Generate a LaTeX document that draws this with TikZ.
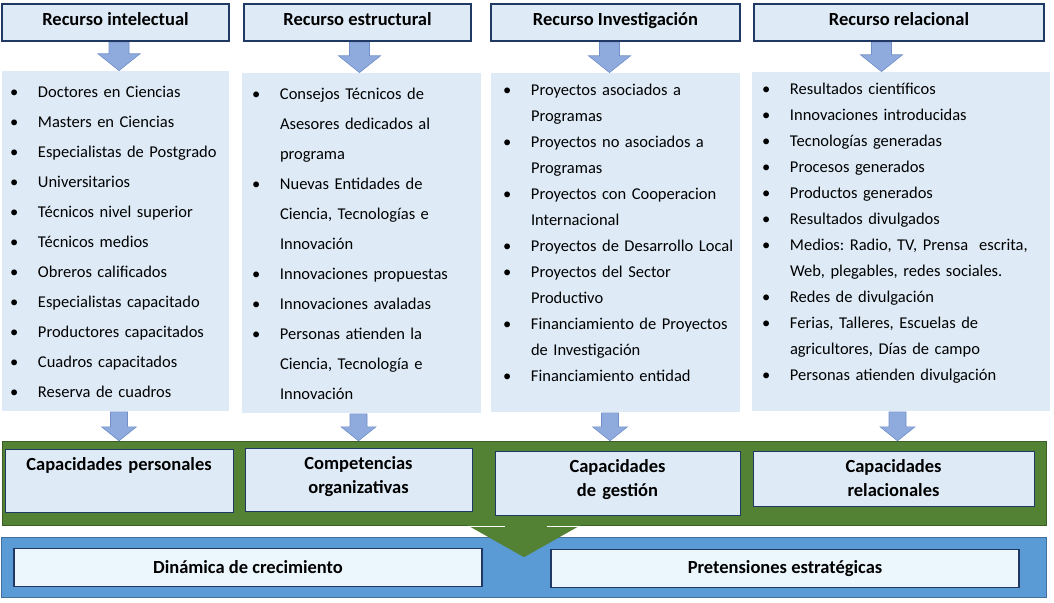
\documentclass[tikz,border=0pt]{standalone}
\usepackage{fontspec}
\setmainfont{Carlito}
\usetikzlibrary{positioning,calc}
\frenchspacing

\definecolor{boxblue}{HTML}{DEEBF7}
\definecolor{navy}{HTML}{203864}
\definecolor{arrowblue}{HTML}{8FAADC}
\definecolor{arrowline}{HTML}{7190C9}
\definecolor{bandgreen}{HTML}{548235}
\definecolor{bandline}{HTML}{3B5E26}
\definecolor{panelblue}{HTML}{5B9BD5}
\definecolor{panelline}{HTML}{41719C}
\definecolor{goalfill}{HTML}{EBF6FD}

\newlength{\listindent}
\newcommand{\itm}[1]{\hspace*{\listindent}\makebox[28pt][l]{\textbullet}\mbox{#1}}
\newcommand{\cnt}[1]{\hspace*{\listindent}\hspace*{28pt}\mbox{#1}}
% from, to, x shift, half shaft, half head
\newcommand{\blockarrow}[5]{%
  \filldraw[blk] let \p1=([xshift=#3]#1.south), \p2=(#2.north), \n1={0.8*#5} in
    (\x1-#4,\y1-0.8pt) -- (\x1+#4,\y1-0.8pt) -- (\x1+#4,\y2+\n1) -- (\x1+#5,\y2+\n1)
    -- (\x1,\y2) -- (\x1-#5,\y2+\n1) -- (\x1-#4,\y2+\n1) -- cycle;}

\begin{document}
\begin{tikzpicture}
[x=1pt,y=-1pt,
hdrbox/.style={draw=navy, line width=1.2pt, fill=boxblue, minimum height=37pt, inner sep=0pt,
  text height=12pt, text depth=6pt, font=\fontsize{18.5}{22}\selectfont\bfseries},
listbox/.style={fill=boxblue, inner sep=0pt, align=left, font=\fontsize{16.5}{30}\selectfont},
listtight/.style={listbox, font=\fontsize{16.5}{26}\selectfont},
capbox/.style={draw=navy, line width=1pt, fill=boxblue, inner sep=0pt, align=center,
  text height=20.5pt, text depth=#1, font=\fontsize{18.5}{24}\selectfont\bfseries},
goalbox/.style={draw=navy, line width=1.5pt, fill=goalfill, minimum height=38pt, inner sep=0pt,
  font=\fontsize{18.5}{22}\selectfont\bfseries},
blk/.style={fill=arrowblue, draw=arrowline, line width=0.6pt}]
\useasboundingbox (0,0) rectangle (1054,602);

\node[hdrbox, minimum width=227pt] (h1) at (115.5,22.5) {Recurso intelectual};
\node[hdrbox, minimum width=227pt, right=13.8pt of h1] (h2) {Recurso estructural};
\node[hdrbox, minimum width=249pt, right=18.8pt of h2] (h3) {Recurso Investigación};
\node[hdrbox, minimum width=290pt, right=12.8pt of h3] (h4) {Recurso relacional};

\node[listbox, text width=227pt, text height=27pt, text depth=313pt, below=29pt of h1] (l1)
{\setlength{\listindent}{8pt}%
\itm{Doctores en Ciencias}\\
\itm{Masters en Ciencias}\\
\itm{Especialistas de Postgrado}\\
\itm{Universitarios}\\
\itm{Técnicos nivel superior}\\
\itm{Técnicos medios}\\
\itm{Obreros calificados}\\
\itm{Especialistas capacitado}\\
\itm{Productores capacitados}\\
\itm{Cuadros capacitados}\\
\itm{Reserva de cuadros}};

\node[listbox, text width=239pt, text height=27pt, text depth=313pt, below=31pt of h2, xshift=4pt] (l2)
{\setlength{\listindent}{10pt}%
\itm{Consejos Técnicos de}\\
\cnt{Asesores dedicados al}\\
\cnt{programa}\\
\itm{Nuevas Entidades de}\\
\cnt{Ciencia, Tecnologías e}\\
\cnt{Innovación}\\
\itm{Innovaciones propuestas}\\
\itm{Innovaciones avaladas}\\
\itm{Personas atienden la}\\
\cnt{Ciencia, Tecnología e}\\
\cnt{Innovación}};

\node[listtight, text width=249pt, text height=23pt, text depth=316pt, below=31pt of h3] (l3)
{\setlength{\listindent}{12pt}%
\itm{Proyectos asociados a}\\
\cnt{Programas}\\
\itm{Proyectos no asociados a}\\
\cnt{Programas}\\
\itm{Proyectos con Cooperacion}\\
\cnt{Internacional}\\
\itm{Proyectos de Desarrollo Local}\\
\itm{Proyectos del Sector}\\
\cnt{Productivo}\\
\itm{Financiamiento de Proyectos}\\
\cnt{de Investigación}\\
\itm{Financiamiento entidad}};

\node[listtight, text width=298pt, text height=23pt, text depth=316pt, below=30pt of h4, xshift=2pt] (l4)
{\setlength{\listindent}{10pt}%
\itm{Resultados científicos}\\
\itm{Innovaciones introducidas}\\
\itm{Tecnologías generadas}\\
\itm{Procesos generados}\\
\itm{Productos generados}\\
\itm{Resultados divulgados}\\
\itm{Medios: Radio, TV, Prensa~ escrita,}\\
\cnt{Web, plegables, redes sociales.}\\
\itm{Redes de divulgación}\\
\itm{Ferias, Talleres, Escuelas de}\\
\cnt{agricultores, Días de campo}\\
\itm{Personas atienden divulgación}};

\blockarrow{h1}{l1}{3.5pt}{10pt}{21pt}
\blockarrow{h2}{l2}{2pt}{10pt}{21pt}
\blockarrow{h3}{l3}{-6pt}{10pt}{21pt}
\blockarrow{h4}{l4}{-17.5pt}{10pt}{21pt}

% green band and blue panel
\node[fill=bandgreen, draw=bandline, minimum width=1044pt, minimum height=84pt, inner sep=0pt] (band) at (524,483) {};
\node[fill=panelblue, draw=panelline, minimum width=1045pt, minimum height=60pt, inner sep=0pt, below=12pt of band] (panel) {};
\fill[bandgreen] ([xshift=-57.5pt,yshift=0.5pt]band.south) -- ([xshift=57.5pt,yshift=0.5pt]band.south)
  -- ([yshift=-32pt]band.south) -- cycle;
\draw[white, line width=1.2pt] ([xshift=-56pt,yshift=-1.5pt]band.south) -- ([xshift=-19pt,yshift=-1.5pt]band.south);
\draw[white, line width=1.2pt] ([xshift=23pt,yshift=-1.5pt]band.south) -- ([xshift=59pt,yshift=-1.5pt]band.south);

\blockarrow{l1}{band}{3.5pt}{8.5pt}{17.5pt}
\blockarrow{l2}{band}{-3pt}{8.5pt}{17.5pt}
\blockarrow{l3}{band}{-5.5pt}{8.5pt}{17.5pt}
\blockarrow{l4}{band}{-3.5pt}{8.5pt}{17.5pt}

\node[capbox=42.5pt, text width=228pt, below=38pt of l1, xshift=3.5pt] (c1) {Capacidades personales};
\node[capbox=42.5pt, text width=227pt, below=35pt of l2, xshift=-3pt] (c2) {Competencias\\organizativas};
\node[capbox=43.5pt, text width=245pt, below=39pt of l3, xshift=2pt] (c3) {Capacidades\\de gestión};
\node[capbox=34.5pt, text width=281pt, below=40pt of l4, xshift=-7.5pt] (c4) {Capacidades\\relacionales};

\node[goalbox, minimum width=468pt] (g1) at (248,567.5) {Dinámica de crecimiento};
\node[goalbox, minimum width=468pt] (g2) at (785,568.5) {Pretensiones estratégicas};
\end{tikzpicture}
\end{document}
